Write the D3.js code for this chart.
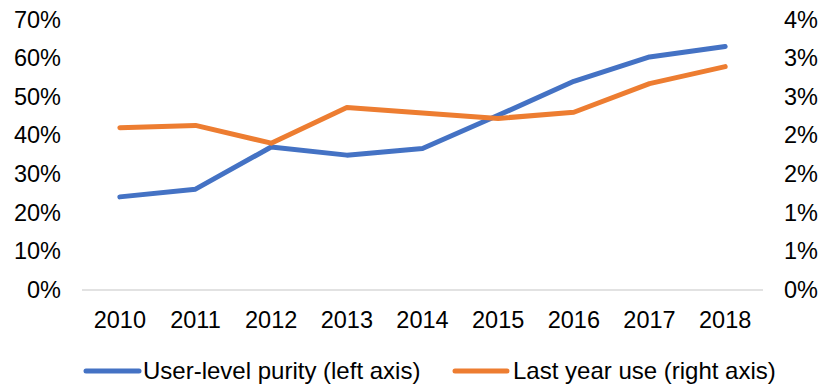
<!DOCTYPE html>
<html>
<head>
<meta charset="utf-8">
<script src="https://cdn.jsdelivr.net/npm/d3@7/dist/d3.min.js"></script>
<style>
  html, body { margin: 0; padding: 0; background: #ffffff; }
  svg { display: block; }
  text { font-family: "Liberation Sans", Arial, sans-serif; fill: #000; }
</style>
</head>
<body>
<svg id="chart" width="823" height="386"></svg>
<script>
// Years on the category axis
const years = ["2010", "2011", "2012", "2013", "2014", "2015", "2016", "2017", "2018"];
// User-level purity, percent (left axis)
const purity = [24.1, 26.1, 37.0, 34.9, 36.6, 45.2, 54.0, 60.3, 63.0];
// Last year use, percent (right axis)
const lastYearUse = [2.10, 2.13, 1.90, 2.36, 2.29, 2.22, 2.30, 2.67, 2.89];
// Axis ticks and their labels
const leftTicks = [0, 10, 20, 30, 40, 50, 60, 70];
const leftTickLabels = ["0%", "10%", "20%", "30%", "40%", "50%", "60%", "70%"];
const rightTicks = [0, 0.5, 1, 1.5, 2, 2.5, 3, 3.5];
const rightTickLabels = ["0%", "1%", "1%", "2%", "2%", "3%", "3%", "4%"];
const seriesNames = ["User-level purity (left axis)", "Last year use (right axis)"];
const seriesColors = ["#4472C4", "#ED7D31"];

const svg = d3.select("#chart");
const plot = { left: 82, right: 763, top: 19.5, bottom: 290 };

const x = d3.scaleBand().domain(years).range([plot.left, plot.right]);
const yLeft = d3.scaleLinear().domain([0, 70]).range([plot.bottom, plot.top]);
const yRight = d3.scaleLinear().domain([0, 3.5]).range([plot.bottom, plot.top]);

// Left value axis
const leftAxis = d3.axisLeft(yLeft)
  .tickValues(leftTicks)
  .tickFormat((d, i) => leftTickLabels[i])
  .tickSize(0).tickPadding(0);
const gL = svg.append("g").attr("transform", "translate(61,0)").call(leftAxis);
gL.select(".domain").remove();
gL.selectAll("text").style("font-size", "23.5px").attr("fill", "#000")
  .attr("font-family", "Liberation Sans, Arial, sans-serif");

// Right value axis
const rightAxis = d3.axisRight(yRight)
  .tickValues(rightTicks)
  .tickFormat((d, i) => rightTickLabels[i])
  .tickSize(0).tickPadding(0);
const gR = svg.append("g").attr("transform", "translate(784,0)").call(rightAxis);
gR.select(".domain").remove();
gR.selectAll("text").style("font-size", "23.5px").attr("fill", "#000")
  .attr("font-family", "Liberation Sans, Arial, sans-serif");

// Category axis with its baseline
const bottomAxis = d3.axisBottom(x).tickSize(0).tickPadding(0);
const gB = svg.append("g").attr("transform", `translate(0,${plot.bottom})`).call(bottomAxis);
gB.select(".domain").attr("stroke", "#d9d9d9").attr("stroke-width", 1.5)
  .attr("d", `M${plot.left},0H${plot.right}`);
gB.selectAll("text").style("font-size", "23.5px").attr("fill", "#000")
  .attr("font-family", "Liberation Sans, Arial, sans-serif")
  .attr("y", 30).attr("dy", "0.35em");

// Series lines
const cx = d => x(d) + x.bandwidth() / 2;
const lineLeft = d3.line().x((d, i) => cx(years[i])).y(d => yLeft(d));
const lineRight = d3.line().x((d, i) => cx(years[i])).y(d => yRight(d));

svg.append("path").datum(purity)
  .attr("d", lineLeft).attr("fill", "none")
  .attr("stroke", seriesColors[0]).attr("stroke-width", 5)
  .attr("stroke-linecap", "round").attr("stroke-linejoin", "round");

svg.append("path").datum(lastYearUse)
  .attr("d", lineRight).attr("fill", "none")
  .attr("stroke", seriesColors[1]).attr("stroke-width", 5)
  .attr("stroke-linecap", "round").attr("stroke-linejoin", "round");

// Legend
const legendY = 371;
const legendItems = [
  { x0: 86, x1: 139, tx: 143 },
  { x0: 455, x1: 507, tx: 513 }
];
const lg = svg.append("g");
legendItems.forEach((it, i) => {
  lg.append("line")
    .attr("x1", it.x0).attr("x2", it.x1)
    .attr("y1", legendY).attr("y2", legendY)
    .attr("stroke", seriesColors[i]).attr("stroke-width", 5)
    .attr("stroke-linecap", "round");
  lg.append("text")
    .attr("x", it.tx).attr("y", legendY).attr("dy", "0.35em")
    .style("font-size", "24px")
    .text(seriesNames[i]);
});
</script>
</body>
</html>
